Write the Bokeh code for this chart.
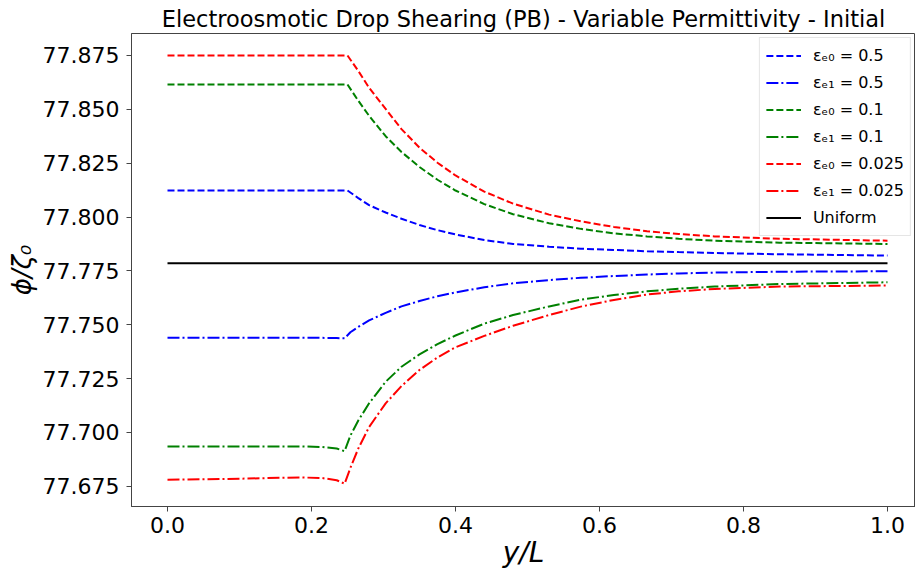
from bokeh.plotting import figure
from bokeh.models import Range1d, FixedTicker, PrintfTickFormatter, Legend, LegendItem
from bokeh.embed import file_html
from bokeh.resources import INLINE

# ---- data ----
x_dashed = [0.0, 0.25, 0.265, 0.28, 0.303, 0.325, 0.35, 0.375, 0.4, 0.44, 0.48, 0.53, 0.574,
            0.62, 0.666, 0.71, 0.76, 0.85, 1.0]
e0_05 = [77.8123, 77.8123, 77.8088, 77.8055, 77.8021, 77.7992, 77.7963, 77.7939, 77.7919, 77.7893,
         77.7875, 77.7862, 77.7853, 77.7847, 77.7841, 77.7837, 77.7833, 77.7827, 77.7821]
e0_01 = [77.8615, 77.8615, 77.8540, 77.8470, 77.8375, 77.8302, 77.8232, 77.8173, 77.8123, 77.8060,
         77.8013, 77.7971, 77.7945, 77.7924, 77.7910, 77.7899, 77.7890, 77.7881, 77.7875]
e0_0025 = [77.8750, 77.8750, 77.8678, 77.8600, 77.8502, 77.8408, 77.8322, 77.8252, 77.8193, 77.8118,
           77.8062, 77.8011, 77.7980, 77.7954, 77.7934, 77.7921, 77.7910, 77.7899, 77.7890]

x_dashdot = [0.0, 0.1, 0.185, 0.215, 0.235, 0.246, 0.254, 0.265, 0.28, 0.303, 0.325, 0.35, 0.375,
             0.4, 0.44, 0.48, 0.53, 0.574, 0.62, 0.666, 0.71, 0.76, 0.85, 1.0]
e1_05 = [77.7439, 77.7439, 77.7439, 77.7439, 77.7438, 77.7437, 77.7465, 77.7490, 77.7520, 77.7555,
         77.7585, 77.7610, 77.7632, 77.7650, 77.7674, 77.7692, 77.7707, 77.7718, 77.7726, 77.7733,
         77.7738, 77.7742, 77.7746, 77.7748]
e1_01 = [77.6934, 77.6934, 77.6935, 77.6932, 77.6925, 77.6913, 77.6985, 77.7055, 77.7135, 77.7235,
         77.7305, 77.7362, 77.7410, 77.7450, 77.7505, 77.7545, 77.7585, 77.7616, 77.7638, 77.7655,
         77.7667, 77.7677, 77.7689, 77.7697]
e1_0025 = [77.6780, 77.6785, 77.6791, 77.6788, 77.6778, 77.6762, 77.6835, 77.6925, 77.7025, 77.7135,
           77.7215, 77.7290, 77.7348, 77.7395, 77.7448, 77.7495, 77.7545, 77.7584, 77.7615, 77.7640,
           77.7655, 77.7666, 77.7677, 77.7682]

x_uniform = [0.0, 1.0]
uniform = [77.7785, 77.7785]

labels = ["\u03b5\u2091\u2080 = 0.5", "\u03b5\u2091\u2081 = 0.5",
          "\u03b5\u2091\u2080 = 0.1", "\u03b5\u2091\u2081 = 0.1",
          "\u03b5\u2091\u2080 = 0.025", "\u03b5\u2091\u2081 = 0.025", "Uniform"]

x_ticks = [0.0, 0.2, 0.4, 0.6, 0.8, 1.0]
y_ticks = [77.675, 77.700, 77.725, 77.750, 77.775, 77.800, 77.825, 77.850, 77.875]

FONT = "DejaVu Sans"

p = figure(width=915, height=574, output_backend="svg", toolbar_location=None,
           x_range=Range1d(-0.05, 1.0389), y_range=Range1d(77.6656, 77.8852),
           min_border_left=131, min_border_right=0, min_border_top=33, min_border_bottom=68,
           title="Electroosmotic Drop Shearing (PB) - Variable Permittivity - Initial")

p.title.text_font = FONT
p.title.text_font_size = "22.5px"
p.title.text_font_style = "normal"
p.title.align = "center"
p.title.text_color = "#000000"
p.title.standoff = 4
p.title.offset = 4

p.xgrid.visible = False
p.ygrid.visible = False
p.outline_line_color = "#444444"
p.outline_line_width = 1

for ax in (p.xaxis[0], p.yaxis[0]):
    ax.major_label_text_font = FONT
    ax.major_label_text_font_size = "22px"
    ax.major_label_text_color = "#000000"
    ax.axis_line_color = "#444444"
    ax.major_tick_line_color = "#444444"
    ax.major_tick_out = 5
    ax.major_tick_in = 0
    ax.minor_tick_line_color = None
    ax.axis_label_text_font = FONT
    ax.axis_label_text_font_style = "italic"
    ax.axis_label_text_color = "#000000"

p.xaxis[0].ticker = FixedTicker(ticks=x_ticks)
p.xaxis[0].formatter = PrintfTickFormatter(format="%.1f")
p.xaxis[0].axis_label = "y/L"
p.xaxis[0].axis_label_text_font_size = "28px"
p.xaxis[0].major_label_standoff = 5
p.xaxis[0].axis_label_standoff = 0

p.yaxis[0].ticker = FixedTicker(ticks=y_ticks)
p.yaxis[0].formatter = PrintfTickFormatter(format="%.3f")
p.yaxis[0].axis_label = "\u03d5/\u03b6\u2080"
p.yaxis[0].axis_label_text_font_size = "26px"
p.yaxis[0].major_label_standoff = 7
p.yaxis[0].axis_label_standoff = 3

LW = 2
DASH = "7 3"
DASHDOT = "12 3 2 3"

r1 = p.line(x_dashed, e0_05, line_color="blue", line_width=LW, line_dash=DASH)
r2 = p.line(x_dashdot, e1_05, line_color="blue", line_width=LW, line_dash=DASHDOT)
r3 = p.line(x_dashed, e0_01, line_color="green", line_width=LW, line_dash=DASH)
r4 = p.line(x_dashdot, e1_01, line_color="green", line_width=LW, line_dash=DASHDOT)
r5 = p.line(x_dashed, e0_0025, line_color="red", line_width=LW, line_dash=DASH)
r6 = p.line(x_dashdot, e1_0025, line_color="red", line_width=LW, line_dash=DASHDOT)
r7 = p.line(x_uniform, uniform, line_color="black", line_width=LW)

items = [LegendItem(label=l, renderers=[r]) for l, r in zip(labels, [r1, r2, r3, r4, r5, r6, r7])]
legend = Legend(items=items, location="top_right")
legend.label_text_font = FONT
legend.label_text_font_size = "16px"
legend.label_text_color = "#000000"
legend.glyph_width = 35
legend.glyph_height = 23
legend.label_height = 23
legend.spacing = 4
legend.padding = 6
legend.margin = 4
legend.label_standoff = 12
legend.border_line_color = "#cccccc"
legend.border_line_width = 1
legend.background_fill_alpha = 0.8
p.add_layout(legend)

open("out.html", "w").write(file_html(p, INLINE))
